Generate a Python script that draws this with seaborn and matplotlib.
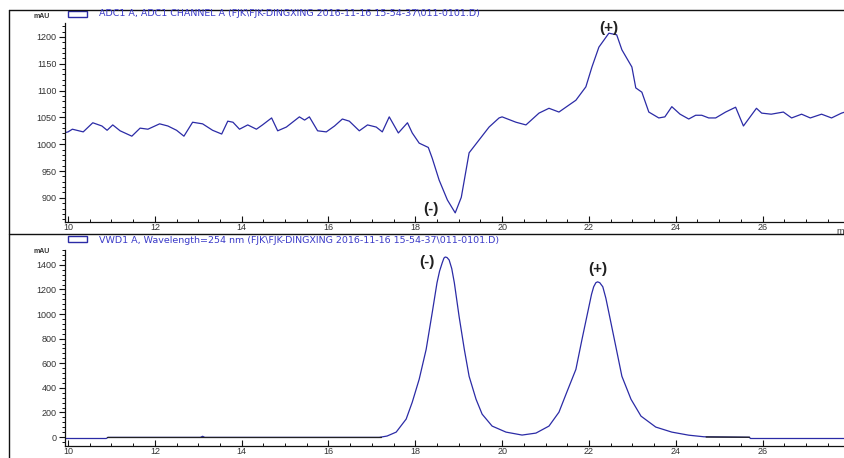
import matplotlib
matplotlib.use("Agg")
import matplotlib.pyplot as plt
import matplotlib.lines as mlines
import matplotlib.patches as mpatches
from matplotlib.ticker import MultipleLocator
import seaborn as sns
import pandas as pd

# ---- data: top trace (ADC1 CHANNEL A) ----
top_time = [9.95, 10.0, 10.1, 10.35, 10.57, 10.78, 10.9, 11.03, 11.2, 11.47, 11.66, 11.84,
            12.11, 12.3, 12.5, 12.67, 12.87, 13.1, 13.33, 13.54, 13.68, 13.8, 13.95, 14.14,
            14.34, 14.48, 14.69, 14.83, 15.03, 15.33, 15.45, 15.56, 15.75, 15.95, 16.14,
            16.32, 16.48, 16.71, 16.9, 17.1, 17.24, 17.4, 17.61, 17.82, 17.93, 18.09, 18.3,
            18.39, 18.55, 18.74, 18.92, 19.06, 19.24, 19.47, 19.7, 19.93, 20.0, 20.32, 20.55,
            20.85, 21.08, 21.31, 21.54, 21.7, 21.93, 22.07, 22.23, 22.46, 22.64, 22.76, 22.99,
            23.08, 23.22, 23.38, 23.61, 23.75, 23.91, 24.1, 24.3, 24.46, 24.6, 24.76, 24.92,
            25.15, 25.38, 25.56, 25.86, 25.98, 26.2, 26.48, 26.67, 26.9, 27.1, 27.36, 27.59,
            27.82, 27.9]
top_mau = [1022, 1023, 1028, 1023, 1040, 1034, 1026, 1036, 1025, 1015, 1030, 1028,
           1038, 1034, 1026, 1015, 1041, 1038, 1026, 1019, 1043, 1041, 1028, 1036,
           1028, 1036, 1049, 1025, 1032, 1051, 1045, 1051, 1025, 1023, 1034,
           1047, 1043, 1025, 1036, 1032, 1023, 1051, 1021, 1040, 1021, 1002, 994,
           974, 933, 896, 872, 901, 984, 1008, 1032, 1049, 1051, 1041, 1036,
           1058, 1067, 1060, 1073, 1082, 1107, 1144, 1181, 1207, 1204, 1176, 1144,
           1105, 1097, 1060, 1049, 1051, 1070, 1056, 1047, 1054, 1054, 1049, 1049,
           1060, 1069, 1034, 1067, 1058, 1056, 1060, 1049, 1056, 1049, 1056, 1049,
           1058, 1060]

# ---- data: bottom trace (VWD1 A, 254 nm) ----
bot_time = [9.95, 10.88, 10.92, 13.05, 13.1, 13.15, 17.17, 17.35, 17.56, 17.79, 17.93, 18.09,
            18.25, 18.39, 18.5, 18.56, 18.62, 18.66, 18.69, 18.73, 18.78, 18.84, 18.9, 19.01,
            19.13, 19.24, 19.4, 19.54, 19.77, 20.09, 20.46, 20.78, 21.08, 21.31, 21.49, 21.7,
            21.84, 22.0, 22.06, 22.11, 22.16, 22.2, 22.25, 22.32, 22.39, 22.46, 22.62, 22.76,
            22.97, 23.2, 23.54, 23.91, 24.3, 24.65, 25.7, 25.72, 27.9]
bot_mau = [-12, -12, -3, -3, 6, -3, -3, 8, 40, 146, 283, 470,
           712, 1011, 1254, 1350, 1416, 1455, 1464, 1460, 1440, 1370, 1254, 979,
           712, 494, 307, 186, 89, 40, 16, 32, 89, 202, 364, 550,
           793, 1060, 1160, 1222, 1255, 1262, 1255, 1222, 1130, 1011, 736, 494,
           307, 170, 81, 40, 15, 2, -2, -12, -12]

# integration baseline overlays (black)
base_segments = [([10.9, 17.2], [-3, -3]), ([24.7, 25.7], [0, -2])]

x_ticks = [10, 12, 14, 16, 18, 20, 22, 24, 26]
top_yticks = [900, 950, 1000, 1050, 1100, 1150, 1200]
bot_yticks = [0, 200, 400, 600, 800, 1000, 1200, 1400]

top_title = "ADC1 A, ADC1 CHANNEL A (FJK\\FJK-DINGXING 2016-11-16 15-54-37\\011-0101.D)"
bot_title = "VWD1 A, Wavelength=254 nm (FJK\\FJK-DINGXING 2016-11-16 15-54-37\\011-0101.D)"

sns.set_theme(style="white")
plt.rcParams['font.family'] = ['Liberation Sans', 'DejaVu Sans']

W, H = 845, 458
fig = plt.figure(figsize=(W / 100, H / 100), dpi=100)
fig.patch.set_facecolor("white")

def fx(px):
    return px / W

def fy(py):
    return 1 - py / H

line_color = "#2B2BA6"
text_color = "#333333"

ax1 = fig.add_axes([fx(65), fy(222), fx(845 - 65), (222 - 23) / H])
ax2 = fig.add_axes([fx(65), fy(446), fx(845 - 65), (446 - 250) / H])

df_top = pd.DataFrame({"time": top_time, "mAU": top_mau})
df_bot = pd.DataFrame({"time": bot_time, "mAU": bot_mau})
sns.lineplot(data=df_top, x="time", y="mAU", ax=ax1, color=line_color, lw=0.9,
             estimator=None, sort=False)
sns.lineplot(data=df_bot, x="time", y="mAU", ax=ax2, color=line_color, lw=0.9,
             estimator=None, sort=False)
for xs, ys in base_segments:
    ax2.plot(xs, ys, color="#222222", lw=0.9)

ax1.set_xlim(9.93, 27.9)
ax1.set_ylim(855, 1226)
ax2.set_xlim(9.93, 27.9)
ax2.set_ylim(-73, 1521)

for ax, yt, ymin in ((ax1, top_yticks, 10), (ax2, bot_yticks, 40)):
    ax.set_xlabel("")
    ax.set_ylabel("")
    ax.set_facecolor("white")
    ax.grid(False)
    ax.set_xticks(x_ticks)
    ax.set_yticks(yt)
    ax.xaxis.set_minor_locator(MultipleLocator(0.5))
    ax.yaxis.set_minor_locator(MultipleLocator(ymin))
    for s in ("top", "right"):
        ax.spines[s].set_visible(False)
    for s in ("left", "bottom"):
        ax.spines[s].set_color("#111111")
        ax.spines[s].set_linewidth(0.9)
    ax.tick_params(axis="x", which="major", direction="in", length=4, width=0.8,
                   labelsize=6.5, labelcolor=text_color, pad=1, bottom=True, color="#111111")
    ax.tick_params(axis="x", which="minor", direction="in", length=2.5, width=0.7,
                   bottom=True, color="#111111")
    ax.tick_params(axis="y", which="major", direction="out", length=4, width=0.8,
                   labelsize=6.5, labelcolor=text_color, pad=2, left=True, color="#111111")
    ax.tick_params(axis="y", which="minor", direction="out", length=2, width=0.7,
                   left=True, color="#111111")

# peak labels
ann = dict(fontsize=11, fontweight="bold", color="#222222", ha="center", va="center")
ax1.text(22.46, 1216, "(+)", **ann)
ax1.text(18.35, 880, "(-)", **ann)
ax2.text(18.27, 1425, "(-)", **ann)
ax2.text(22.2, 1370, "(+)", **ann)

# titles with legend boxes
title_kw = dict(fontsize=6.8, color="#3A3AC8", va="center", ha="left",
                family=["DejaVu Sans"])
fig.text(fx(99), fy(13.5), top_title, **title_kw)
fig.text(fx(99), fy(240.5), bot_title, **title_kw)
for ytop in (11, 236):
    fig.add_artist(mpatches.Rectangle((fx(68), fy(ytop + 6)), fx(19), 6 / H,
                                      fill=False, edgecolor="#2B2BA6", lw=1.0,
                                      transform=fig.transFigure))

# mAU labels
fig.text(fx(42), fy(16), "mAU", fontsize=5, fontweight="bold", color=text_color,
         va="center", ha="center")
fig.text(fx(42), fy(252), "mAU", fontsize=5, fontweight="bold", color=text_color,
         va="center", ha="center")
fig.text(fx(836), fy(231), "m", fontsize=6.5, color=text_color, va="center", ha="left")

# outer frame lines
frame = dict(color="#111111", lw=1.0, transform=fig.transFigure)
fig.add_artist(mlines.Line2D([fx(9), fx(9)], [fy(10), 0], **frame))
fig.add_artist(mlines.Line2D([fx(9), 1], [fy(10), fy(10)], **frame))
fig.add_artist(mlines.Line2D([fx(9), 1], [fy(234.5), fy(234.5)], **frame))

fig.savefig("out.png", dpi=100, facecolor="white")
